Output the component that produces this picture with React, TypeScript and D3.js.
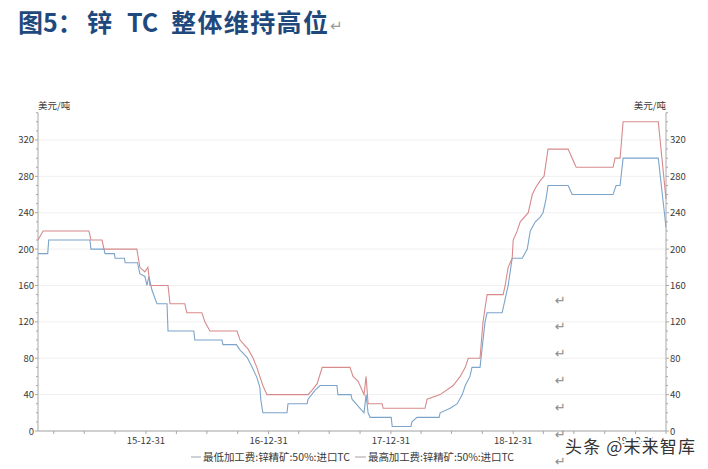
import React from "react";
import * as d3 from "d3";

const lowDates = ["2015-02-12","2015-03-13","2015-03-16","2015-07-17","2015-07-20","2015-08-28","2015-08-31","2015-09-28","2015-09-30","2015-10-28","2015-10-30","2015-12-06","2015-12-13","2015-12-28","2016-01-03","2016-01-09","2016-01-18","2016-02-02","2016-03-03","2016-03-06","2016-05-22","2016-05-25","2016-08-14","2016-08-17","2016-09-26","2016-10-07","2016-10-28","2016-11-12","2016-11-26","2016-12-05","2016-12-08","2016-12-14","2017-02-24","2017-02-27","2017-04-25","2017-04-28","2017-05-19","2017-06-03","2017-07-23","2017-07-26","2017-09-03","2017-09-06","2017-09-30","2017-10-12","2017-10-18","2017-10-24","2017-10-30","2018-01-01","2018-01-04","2018-03-01","2018-03-04","2018-03-19","2018-05-24","2018-05-27","2018-06-26","2018-07-17","2018-08-01","2018-08-10","2018-08-24","2018-08-30","2018-09-23","2018-10-08","2018-10-14","2018-11-28","2018-12-07","2018-12-16","2018-12-22","2018-12-28","2019-01-27","2019-02-11","2019-02-20","2019-03-07","2019-03-21","2019-03-30","2019-04-08","2019-04-14","2019-06-13","2019-06-25","2019-10-25","2019-11-03","2019-11-15","2019-11-24","2020-03-08","2020-03-31"];
const lowValues = [195,195,210,210,200,200,195,195,190,190,185,185,173,170,160,170,155,140,140,110,110,100,100,95,95,89,81,70,59,48,34,20,20,30,30,35,45,50,50,40,40,35,25,20,40,20,15,15,5,5,10,15,15,20,25,30,40,50,60,70,70,120,130,130,145,160,175,190,190,200,220,230,235,240,255,270,270,260,260,270,270,300,300,224];

const highDates = ["2015-02-12","2015-02-27","2015-07-14","2015-07-20","2015-08-22","2015-08-28","2015-12-04","2015-12-13","2015-12-28","2016-01-06","2016-01-12","2016-03-06","2016-03-12","2016-04-25","2016-05-01","2016-06-15","2016-06-24","2016-07-09","2016-09-28","2016-10-07","2016-10-31","2016-11-15","2016-11-26","2016-12-14","2016-12-26","2017-04-28","2017-05-10","2017-05-25","2017-06-09","2017-08-31","2017-09-09","2017-09-24","2017-10-12","2017-10-18","2017-10-24","2017-12-05","2017-12-08","2018-04-12","2018-04-18","2018-05-27","2018-07-05","2018-07-26","2018-08-10","2018-08-19","2018-09-23","2018-10-02","2018-10-14","2018-12-01","2018-12-07","2018-12-16","2018-12-28","2018-12-31","2019-01-12","2019-01-21","2019-02-14","2019-02-26","2019-03-07","2019-03-21","2019-04-02","2019-04-14","2019-06-13","2019-06-25","2019-07-07","2019-10-25","2019-10-31","2019-11-15","2019-11-24","2020-03-08","2020-03-31"];
const highValues = [210,220,220,210,210,200,200,180,175,180,160,160,140,140,130,130,120,110,110,100,90,80,70,50,40,40,45,52,70,70,60,55,40,60,30,30,25,25,35,40,50,60,70,80,80,120,150,150,160,180,190,210,220,230,240,260,267,275,280,310,310,300,290,290,300,300,340,340,255];

const yTicks = [0, 40, 80, 120, 160, 200, 240, 280, 320];
const xTickDates = ["2015-12-31", "2016-12-31", "2017-12-31", "2018-12-31", "2019-12-31"];
const xTickLabels = ["15-12-31", "16-12-31", "17-12-31", "18-12-31", "19-12-31"];
const seriesNames = ["最低加工费:锌精矿:50%:进口TC", "最高加工费:锌精矿:50%:进口TC"];
const unitLabel = "美元/吨";
const domainStart = "2015-02-12";
const domainEnd = "2020-03-31";

const parse = d3.timeParse("%Y-%m-%d");
const FONT = "'Noto Sans CJK SC', 'Noto Sans', sans-serif";

export default function App() {
  const L = 38, R = 666, B = 431, T = 112.7;
  const x = d3.scaleTime().domain([parse(domainStart)!, parse(domainEnd)!]).range([L, R]);
  const y = d3.scaleLinear().domain([0, 350]).range([B, T]);

  const line = d3.line<[Date, number]>().x(d => x(d[0])).y(d => y(d[1]));
  const low = lowDates.map((d, i) => [parse(d)!, lowValues[i]] as [Date, number]);
  const high = highDates.map((d, i) => [parse(d)!, highValues[i]] as [Date, number]);

  const minorY = d3.range(0, 351, 10);
  const quarterTicks = d3.timeMonth
    .every(3)!
    .range(parse("2015-01-01")!, parse("2020-04-02")!)
    .map(d => d3.timeDay.offset(d, -1))
    .filter(d => d >= x.domain()[0] && d <= x.domain()[1]);

  const blue = "#7ca4ca";
  const red = "#d68a8c";
  const axis = "#a8a8a8";
  const txt = "#3a3a3a";
  const marks = [300, 326, 353, 380, 407, 434, 461];

  return (
    <div style={{ position: "absolute", left: 0, top: 0 }}>
      <svg width={708} height={469} style={{ display: "block", background: "#fff" }}>
        <text x={18} y={32} fontFamily={FONT} fontWeight={700} fontSize={25} fill="#1f497d">图5：</text>
        <text x={87} y={32} fontFamily={FONT} fontWeight={700} fontSize={25} fill="#1f497d">锌</text>
        <text x={127} y={32} fontFamily={FONT} fontWeight={700} fontSize={25} fill="#1f497d">TC</text>
        <text x={171} y={32} fontFamily={FONT} fontWeight={700} fontSize={25} fill="#1f497d" textLength={157}>整体维持高位</text>
        <text x={330} y={31} fontFamily="'DejaVu Sans', sans-serif" fontSize={15} fill="#9a9a9a">↵</text>

        {yTicks.map(t => (
          <line key={"g" + t} x1={L} x2={R} y1={y(t)} y2={y(t)} stroke="#f0f0f0" strokeWidth={1} />
        ))}

        <line x1={L} x2={L} y1={T} y2={B} stroke={axis} />
        <line x1={R} x2={R} y1={T} y2={B} stroke={axis} />
        <line x1={L} x2={R} y1={B} y2={B} stroke={axis} />

        {minorY.map(t => (
          <g key={"m" + t}>
            <line x1={L - (t % 40 === 0 ? 3 : 2)} x2={L} y1={y(t)} y2={y(t)} stroke={axis} />
            <line x1={R} x2={R + (t % 40 === 0 ? 3 : 2)} y1={y(t)} y2={y(t)} stroke={axis} />
          </g>
        ))}
        {quarterTicks.map((d, i) => (
          <line key={"q" + i} x1={x(d)} x2={x(d)} y1={B} y2={B + 3} stroke={axis} />
        ))}

        {yTicks.map(t => (
          <g key={"l" + t}>
            <text x={L - 4} y={y(t) + 3.5} textAnchor="end" fontFamily={FONT} fontSize={9.5} fill={txt}>{t}</text>
            <text x={R + 4} y={y(t) + 3.5} textAnchor="start" fontFamily={FONT} fontSize={9.5} fill={txt}>{t}</text>
          </g>
        ))}
        <text x={L} y={109} fontFamily={FONT} fontSize={9.5} fill={txt}>{unitLabel}</text>
        <text x={R} y={109} textAnchor="end" fontFamily={FONT} fontSize={9.5} fill={txt}>{unitLabel}</text>

        {xTickDates.map((d, i) => (
          <text key={"x" + i} x={x(parse(d)!)} y={444} textAnchor="middle" fontFamily={FONT} fontSize={9.5} fill={txt}>{xTickLabels[i]}</text>
        ))}

        <path d={line(low)!} fill="none" stroke={blue} strokeWidth={1.1} />
        <path d={line(high)!} fill="none" stroke={red} strokeWidth={1.1} />

        <line x1={191} x2={201} y1={457} y2={457} stroke="#9aa3ab" />
        <text x={203} y={461} fontFamily={FONT} fontSize={10.5} fill={txt} textLength={147}>{seriesNames[0]}</text>
        <line x1={355} x2={366} y1={457} y2={457} stroke="#aa9c9c" />
        <text x={368} y={461} fontFamily={FONT} fontSize={10.5} fill={txt} textLength={146}>{seriesNames[1]}</text>

        {marks.map((m, i) => (
          <text key={"p" + i} x={555} y={m + 5} fontFamily="'DejaVu Sans', sans-serif" fontSize={13} fill="#8a8a8a">↵</text>
        ))}

        <text x={565} y={453} fontFamily={FONT} fontSize={17} fill="#333" stroke="#fff" strokeWidth={3} paintOrder="stroke" textLength={130}>头条 @未来智库</text>
      </svg>
    </div>
  );
}
